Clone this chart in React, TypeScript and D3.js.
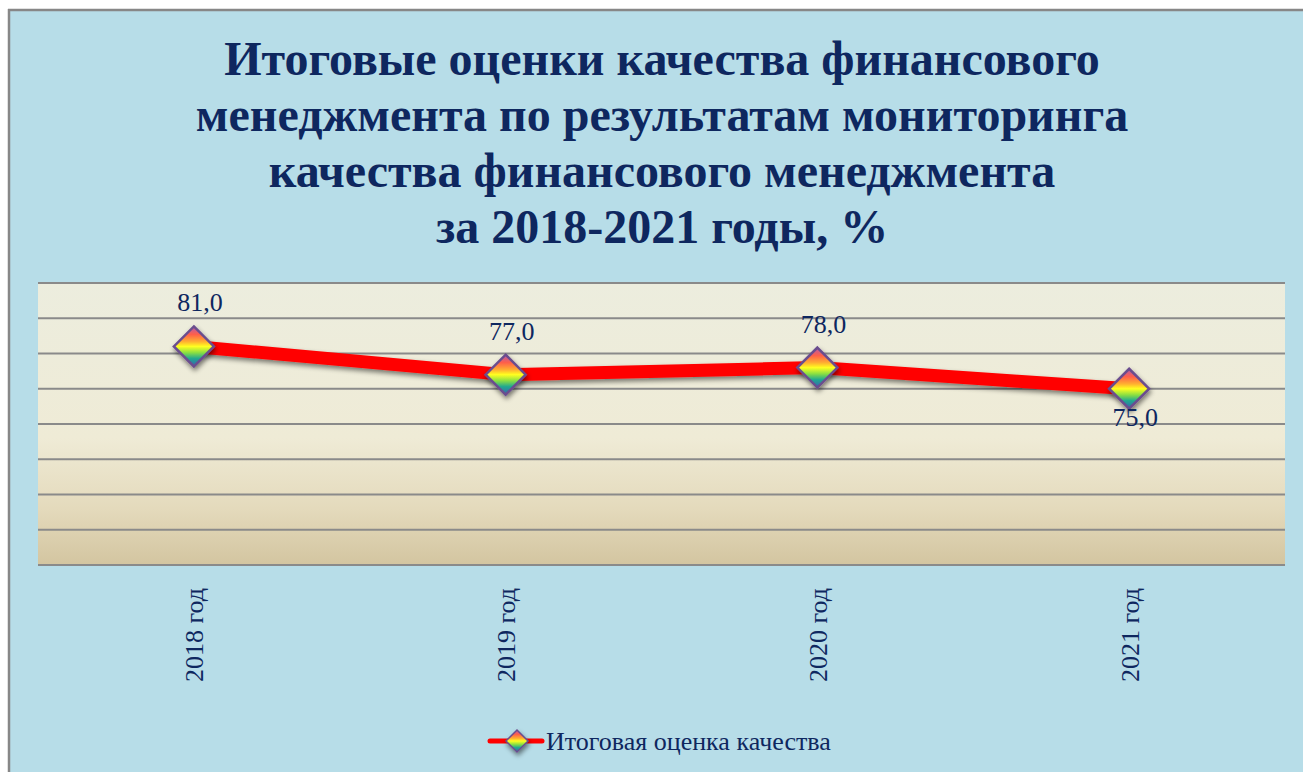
import React from "react";
import * as d3 from "d3";

const categories = ["2018 год", "2019 год", "2020 год", "2021 год"];
const values = [81.0, 77.0, 78.0, 75.0];
const labelPlacement = ["above", "above", "above", "below"];
const yTicks = [50, 55, 60, 65, 70, 75, 80, 85, 90];
const titleLines = [
  "Итоговые оценки качества финансового",
  "менеджмента по результатам мониторинга",
  "качества финансового менеджмента",
  "за 2018-2021 годы, %",
];
const seriesName = "Итоговая оценка качества";

const W = 1303;
const H = 772;
const NAVY = "#0e275f";
const SERIF = "'Liberation Serif', 'Times New Roman', 'DejaVu Serif', serif";

export default function App() {
  const plot = { left: 38, right: 1285, top: 283, bottom: 565 };
  const x = d3
    .scaleBand<string>()
    .domain(categories)
    .range([plot.left, plot.right])
    .padding(0);
  const y = d3.scaleLinear().domain([50, 90]).range([plot.bottom, plot.top]);
  const cx = (c: string) => (x(c) as number) + x.bandwidth() / 2;

  const pts = categories.map((c, i) => [cx(c), y(values[i])] as [number, number]);
  const line = d3.line<[number, number]>()(pts) as string;

  const diamond = (px: number, py: number, r: number) =>
    `M${px},${py - r}L${px + r},${py}L${px},${py + r}L${px - r},${py}Z`;

  const fmt = (v: number) => v.toFixed(1).replace(".", ",");

  return (
    <svg
      width={W}
      height={H}
      style={{ position: "fixed", left: 0, top: 0, display: "block" }}
      xmlns="http://www.w3.org/2000/svg"
    >
      <defs>
        <linearGradient id="plotBg" x1="0" y1="0" x2="0" y2="1">
          <stop offset="0" stopColor="#ecedde" />
          <stop offset="0.55" stopColor="#efebd6" />
          <stop offset="0.8" stopColor="#e4dabc" />
          <stop offset="1" stopColor="#d3c5a0" />
        </linearGradient>
        <linearGradient id="rainbow" x1="0" y1="0" x2="0" y2="1">
          <stop offset="0" stopColor="#b05ab0" />
          <stop offset="0.2" stopColor="#ff5f4a" />
          <stop offset="0.38" stopColor="#ffb030" />
          <stop offset="0.5" stopColor="#ffff20" />
          <stop offset="0.65" stopColor="#8ee040" />
          <stop offset="0.8" stopColor="#20a890" />
          <stop offset="1" stopColor="#3a5fb0" />
        </linearGradient>
        <filter id="shadow" x="-50%" y="-50%" width="200%" height="200%">
          <feGaussianBlur in="SourceAlpha" stdDeviation="2.5" />
          <feOffset dx="1" dy="3" result="b" />
          <feComponentTransfer>
            <feFuncA type="linear" slope="0.5" />
          </feComponentTransfer>
          <feMerge>
            <feMergeNode />
            <feMergeNode in="SourceGraphic" />
          </feMerge>
        </filter>
      </defs>

      <rect x={0} y={0} width={W} height={H} fill="#ffffff" />

      {/* chart frame */}
      <rect x={8} y={9} width={W} height={H} fill="#b7dde8" />
      <line x1={8} y1={10} x2={W} y2={10} stroke="#878787" strokeWidth={2.5} />
      <line x1={9} y1={9} x2={9} y2={H} stroke="#878787" strokeWidth={2.5} />

      {/* title */}
      <g fontFamily={SERIF} fontWeight="bold" fontSize={48} fill={NAVY} textAnchor="middle">
        {titleLines.map((t, i) => (
          <text key={i} x={662} y={75 + i * 56}>
            {t}
          </text>
        ))}
      </g>

      {/* plot area */}
      <rect
        x={plot.left}
        y={plot.top}
        width={plot.right - plot.left}
        height={plot.bottom - plot.top}
        fill="url(#plotBg)"
      />
      {yTicks.map((t) => (
        <line
          key={t}
          x1={plot.left}
          x2={plot.right}
          y1={y(t)}
          y2={y(t)}
          stroke="#8a8a8a"
          strokeWidth={2}
        />
      ))}

      {/* series line */}
      <path
        d={line}
        fill="none"
        stroke="#ff0000"
        strokeWidth={13}
        strokeLinejoin="round"
        filter="url(#shadow)"
      />
      {pts.map(([px, py], i) => (
        <path
          key={i}
          d={diamond(px, py, 20)}
          fill="url(#rainbow)"
          stroke="#6b4e8e"
          strokeWidth={2.5}
          filter="url(#shadow)"
        />
      ))}

      {/* data labels */}
      <g fontFamily={SERIF} fontSize={26} fill={NAVY} textAnchor="middle">
        {pts.map(([px, py], i) => (
          <text
            key={i}
            x={px + 6}
            y={labelPlacement[i] === "above" ? py - 35 : py + 37}
          >
            {fmt(values[i])}
          </text>
        ))}
      </g>

      {/* category axis labels */}
      <g fontFamily={SERIF} fontSize={26} fill={NAVY}>
        {categories.map((c) => (
          <text
            key={c}
            transform={`translate(${cx(c) + 1},${588}) rotate(-90)`}
            textAnchor="end"
            dominantBaseline="central"
          >
            {c}
          </text>
        ))}
      </g>

      {/* legend */}
      <line x1={490} x2={542} y1={741} y2={741} stroke="#ff0000" strokeWidth={5} strokeLinecap="round" />
      <path
        d={diamond(517, 741, 11)}
        fill="url(#rainbow)"
        stroke="#6b4e8e"
        strokeWidth={1.5}
        filter="url(#shadow)"
      />
      <text x={546} y={750} fontFamily={SERIF} fontSize={26} fill={NAVY}>
        {seriesName}
      </text>
    </svg>
  );
}
